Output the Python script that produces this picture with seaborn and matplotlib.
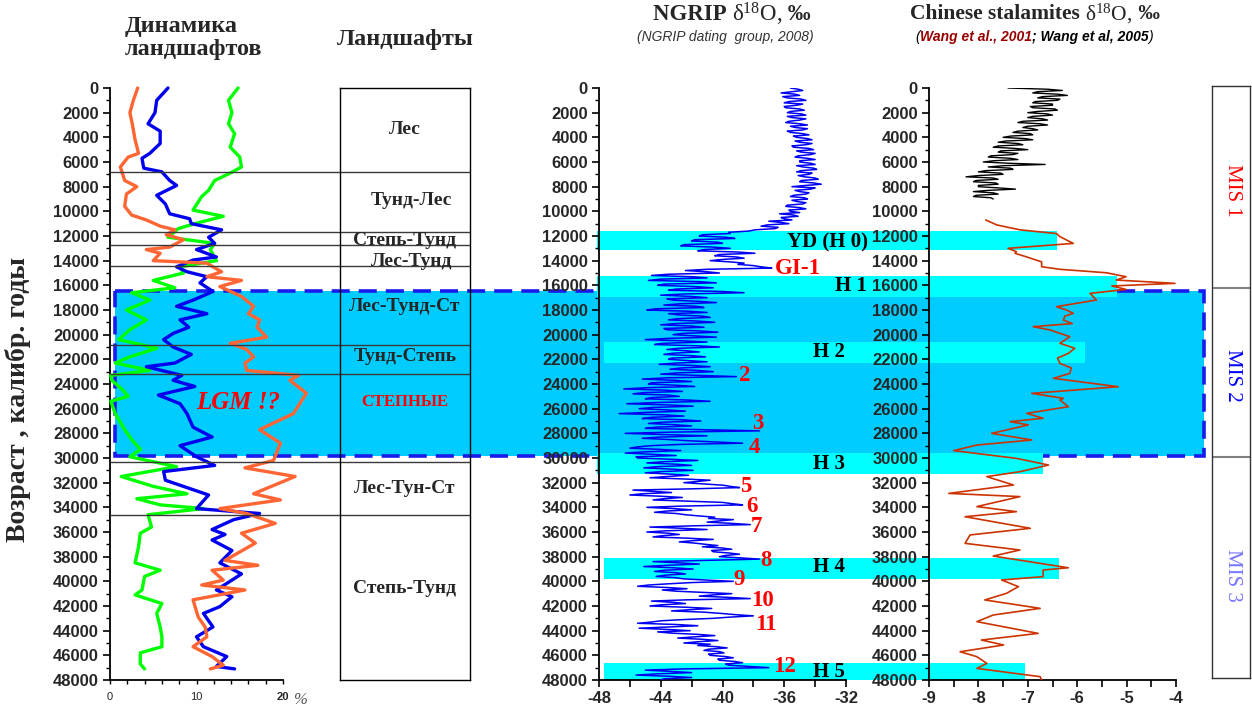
import numpy as np
import pandas as pd
import matplotlib
matplotlib.use("Agg")
import matplotlib.pyplot as plt
import seaborn as sns
from matplotlib.patches import Rectangle
from matplotlib.transforms import blended_transform_factory
from matplotlib.ticker import MultipleLocator

# ---------------- data ----------------
# Left panel: landscape dynamics (%), three curves
orange_age = [0, 1000, 2000, 3000, 4200, 5300, 5600, 6400, 7500, 8000, 8600, 9600, 10300, 10700,
              11200, 11500, 11900, 12300, 12900, 13100, 13400, 14000, 14200, 14500, 14900, 15300,
              15600, 16100, 16900, 17700, 18300, 18800, 19400, 20200, 20700, 21200, 21800, 22300,
              22900, 23300, 23700, 24750, 26400, 27700, 28800, 30200, 30800, 31500, 32900, 33400,
              34100, 34500, 35300, 36100, 36900, 38300, 38700, 39100, 39900, 40300, 40700, 41500,
              42900, 43700, 44500, 45300, 46100, 46800, 47100]
orange_val = [3.2, 2.7, 2.3, 2.6, 2.9, 3.3, 2.1, 1.2, 1.7, 3.1, 1.9, 1.7, 2.5, 4.2,
              5.8, 7.5, 6.5, 8.5, 6.9, 4.2, 5.8, 5.0, 11.2, 11.9, 12.9, 11.2,
              15.2, 12.7, 15.2, 16.6, 16.0, 17.3, 17.0, 18.1, 13.9, 15.8, 16.6, 15.6,
              15.8, 21.8, 20.8, 22.7, 21.2, 17.3, 19.7, 18.9, 15.6, 21.4, 16.6, 19.7,
              12.7, 15.8, 19.1, 15.2, 16.8, 13.3, 17.1, 11.8, 13.1, 10.6, 15.6, 9.6,
              10.2, 11.0, 11.2, 9.6, 11.8, 13.1, 11.6]

blue_age = [0, 1000, 2000, 2900, 3500, 4500, 5300, 5700, 6500, 6800, 7500, 7900, 8700, 9400,
            10200, 10600, 11000, 11500, 12100, 12600, 13100, 13700, 13950, 14500, 14900, 15300,
            15800, 16500, 17200, 17700, 18300, 18800, 19400, 19900, 20400, 21000, 21600, 22300,
            22600, 23300, 23700, 24200, 24900, 25600, 26400, 27500, 28300, 29000, 29900, 30600,
            31100, 31800, 33000, 34100, 34500, 35000, 35800, 36200, 36650, 37500, 38500, 39400,
            39900, 40700, 41250, 42050, 42600, 43700, 44500, 45300, 46100, 46900, 47100]
blue_val = [6.7, 5.4, 5.2, 4.4, 5.8, 5.8, 4.6, 3.7, 3.9, 6.0, 6.9, 7.7, 5.4, 6.4,
            6.9, 9.2, 9.4, 12.9, 11.4, 12.1, 10.0, 12.3, 9.6, 7.7, 8.9, 11.2,
            10.4, 11.9, 9.6, 7.7, 11.2, 8.1, 9.1, 7.3, 6.2, 7.3, 9.4, 7.5,
            4.2, 8.3, 7.3, 9.8, 5.6, 8.1, 8.9, 9.6, 11.8, 8.1, 10.0, 12.1,
            6.2, 6.4, 11.4, 10.0, 17.3, 14.3, 11.8, 13.3, 11.8, 14.1, 12.7, 15.2,
            14.1, 12.3, 14.1, 12.7, 10.8, 11.9, 10.0, 10.8, 13.5, 12.3, 14.4]

green_age = [0, 1000, 2000, 2900, 3700, 4800, 5600, 6400, 6900, 7500, 8300, 8800, 9900, 10400,
             11000, 11400, 12100, 12600, 13100, 14000, 14500, 15000, 15600, 16200, 16600, 17200,
             18000, 18800, 19600, 20400, 21100, 21800, 22300, 22900, 23300, 23700, 24500, 25000,
             25400, 26400, 27700, 28500, 29300, 29900, 30700, 31500, 32300, 32900, 33300, 33800,
             34100, 34600, 35600, 36100, 37200, 38500, 39100, 39600, 40700, 41100, 41800, 42600,
             43700, 44500, 45300, 45800, 46700, 47100]
green_val = [14.8, 13.7, 14.1, 13.7, 14.4, 13.9, 15.0, 15.2, 13.9, 12.1, 11.4, 10.6, 9.6, 13.1,
             9.8, 7.9, 6.7, 12.1, 11.6, 12.3, 8.1, 8.5, 5.0, 7.5, 2.5, 4.6,
             1.9, 4.2, 2.3, 1.0, 5.4, 2.3, 0.6, 4.6, 0.1, 0.2, 1.5, 2.1,
             0.1, 0.6, 1.7, 2.5, 3.5, 2.3, 7.7, 1.3, 5.0, 8.9, 3.1, 5.8,
             10.8, 4.4, 4.8, 3.5, 3.3, 2.9, 5.8, 4.0, 3.7, 2.9, 6.0, 5.4,
             5.8, 6.0, 6.0, 3.5, 3.5, 4.0]

# NGRIP d18O, every 100 years from 0 to 48000 (one row = 2000 years)
ngrip_age = np.arange(0, 48001, 100)
ngrip_val = [
    -35.6, -35.1, -34.8, -35.5, -36.2, -35.3, -35.0, -36.1, -35.8, -34.9, -34.6, -35.7, -36.0, -34.8, -35.2, -36.0, -35.9, -35.0, -34.7, -35.6,
    -35.8, -34.9, -34.6, -35.8, -35.5, -34.6, -35.0, -35.7, -35.9, -35.0, -34.5, -35.6, -35.3, -34.5, -34.8, -35.8, -35.6, -34.8, -34.4, -35.4,
    -35.2, -34.5, -34.2, -35.3, -35.0, -34.2, -34.6, -35.5, -35.4, -34.4, -34.1, -35.2, -34.9, -34.0, -34.3, -35.1, -35.3, -34.5, -34.0, -35.0,
    -35.0, -34.3, -34.0, -35.2, -34.8, -34.1, -33.9, -34.9, -35.2, -34.2, -34.4, -35.1, -34.7, -34.0, -33.8, -34.9, -35.0, -34.1, -33.6, -34.6,
    -35.5, -34.0, -34.3, -35.3, -35.0, -34.4, -34.6, -35.4, -35.6, -34.7, -34.5, -35.5, -35.2, -34.6, -34.8, -35.8, -35.9, -35.0, -34.6, -35.7,
    -35.6, -35.0, -36.3, -35.4, -35.1, -36.2, -36.0, -35.5, -37.0, -36.2, -35.7, -37.1, -37.5, -36.4, -36.6, -37.9, -38.3, -39.6, -39.5, -41.3,
    -41.5, -39.8, -39.2, -41.8, -42.0, -40.3, -40.0, -42.5, -42.7, -40.6, -39.5, -41.2, -41.6, -39.0, -37.9, -40.2, -40.5, -39.1, -38.6, -40.0,
    -40.8, -39.5, -38.6, -39.0, -38.0, -37.5, -36.8, -41.0, -42.4, -41.0, -40.2, -43.5, -44.6, -42.0, -41.0, -44.0, -44.8, -41.5, -40.4, -43.8,
    -44.2, -41.8, -40.6, -43.0, -43.5, -40.0, -38.6, -42.5, -44.0, -42.0, -41.0, -43.6, -43.2, -41.5, -40.4, -42.8, -43.8, -41.7, -41.2, -44.3,
    -44.9, -42.2, -41.0, -43.5, -42.8, -41.3, -40.8, -42.9, -43.5, -41.6, -40.5, -43.0, -44.0, -42.0, -41.2, -43.8, -43.6, -41.5, -40.3, -42.6,
    -43.2, -41.8, -40.4, -43.5, -45.0, -42.6, -41.0, -43.9, -44.4, -41.7, -40.2, -42.8, -43.6, -42.4, -41.5, -43.2, -43.8, -42.0, -41.1, -43.3,
    -43.5, -42.2, -41.0, -43.0, -44.1, -41.9, -40.8, -42.7, -43.4, -41.6, -40.6, -42.9, -44.0, -41.7, -39.1, -43.6, -45.2, -43.1, -42.0, -44.6,
    -44.8, -43.0, -41.8, -44.9, -46.4, -43.7, -42.6, -45.1, -45.8, -43.5, -42.8, -44.6, -45.0, -42.3, -40.8, -44.2, -46.2, -43.4, -41.9, -44.5,
    -45.4, -43.6, -42.4, -44.9, -46.7, -43.8, -42.5, -44.6, -45.2, -42.6, -41.4, -43.9, -44.8, -43.1, -42.0, -44.3, -45.0, -41.5, -37.6, -43.2,
    -46.3, -43.8, -41.0, -44.0, -45.2, -43.5, -42.2, -40.5, -38.7, -42.8, -44.6, -45.5, -46.0, -44.1, -42.7, -45.0, -46.3, -44.5, -43.0, -45.6,
    -45.5, -43.4, -41.6, -43.8, -44.9, -43.0, -42.0, -44.2, -45.1, -43.3, -41.9, -43.9, -45.0, -43.5, -42.2, -43.6, -44.7, -42.5, -40.8, -41.6,
    -42.5, -41.2, -40.0, -39.5, -38.9, -42.0, -45.8, -44.5, -43.3, -45.2, -46.0, -44.0, -42.6, -43.8, -44.5, -42.2, -40.0, -39.4, -38.7, -42.6,
    -44.9, -43.2, -42.0, -43.6, -44.4, -43.0, -42.4, -41.5, -40.5, -40.9, -39.3, -40.2, -41.0, -39.4, -38.2, -41.9, -44.7, -42.6, -41.0, -43.6,
    -44.9, -43.5, -42.8, -43.9, -44.5, -42.3, -40.6, -41.9, -42.8, -41.8, -41.1, -40.3, -41.3, -40.0, -39.4, -40.7, -40.6, -39.6, -38.9, -39.8,
    -40.2, -38.8, -37.6, -41.0, -44.5, -42.8, -41.5, -43.6, -45.1, -43.2, -41.9, -43.8, -44.4, -43.0, -42.4, -43.7, -44.3, -43.1, -42.5, -41.0,
    -39.3, -42.0, -43.5, -44.8, -45.5, -43.6, -42.3, -43.9, -43.0, -41.2, -39.4, -40.6, -41.5, -39.6, -38.2, -42.3, -44.6, -43.2, -42.4, -43.9,
    -44.7, -42.4, -40.7, -42.1, -43.3, -41.2, -40.1, -39.2, -38.0, -39.5, -40.6, -42.5, -44.0, -44.6, -45.5, -43.0, -41.6, -43.5, -45.4, -43.6,
    -42.1, -44.2, -43.3, -41.6, -40.5, -41.8, -42.9, -41.3, -40.3, -41.6, -42.5, -40.8, -41.6, -40.4, -39.7, -40.9, -41.2, -40.2, -39.9, -40.9,
    -40.8, -39.8, -39.3, -40.3, -40.2, -39.2, -38.7, -39.8, -39.6, -38.3, -37.0, -42.5, -45.0, -43.4, -42.0, -44.2, -45.6, -43.4, -42.0, -43.8,
    -44.0]

# Chinese stalagmites: Holocene record (black), every 100 years 0..9000
holo_age = np.arange(0, 9001, 100)
holo_val = [
    -7.4, -6.6, -6.3, -6.8, -6.9, -6.4, -6.2, -6.7, -6.8, -6.35, -6.4, -6.85, -6.9, -6.5, -6.5, -6.95, -6.9, -6.45, -6.4, -6.8,
    -7.0, -6.6, -6.5, -6.9, -7.0, -6.7, -6.6, -7.1, -7.2, -6.75, -6.6, -7.0, -7.1, -6.9, -6.8, -7.2, -7.3, -6.95, -6.9, -7.35,
    -7.5, -7.05, -6.9, -7.45, -7.6, -7.2, -7.1, -7.6, -7.7, -7.25, -7.0, -7.55, -7.6, -7.2, -7.3, -7.75, -7.8, -7.35, -7.2, -7.7,
    -7.9, -7.4, -6.65, -7.5, -7.8, -7.35, -7.3, -7.85, -8.0, -7.55, -7.5, -8.0, -8.25, -7.7, -7.6, -8.05, -8.1, -7.65, -7.6, -8.0,
    -8.0, -7.6, -7.25, -7.8, -8.1, -7.7, -7.6, -8.05, -8.1, -7.75, -7.7]

# Chinese stalagmites: Hulu record (red-orange)
hulu_age = [10700, 11100, 11500, 11800, 12050, 12460, 12600, 12730, 13000, 13270, 13400, 13700,
            14100, 14490, 14700, 14980, 15300, 15570, 15840, 16050, 16330, 16650, 17190, 17730,
            18000, 18270, 18500, 18810, 19100, 19350, 19620, 20160, 20700, 21100, 21520, 21900,
            22330, 22700, 23140, 23540, 24220, 24760, 25160, 25300, 25840, 26380, 26780, 27050,
            27320, 28000, 28540, 28950, 29400, 30030, 30570, 31110, 31510, 32190, 32870, 33130,
            33940, 34350, 34760, 35700, 36240, 36920, 37460, 37950, 38900, 39080, 39620, 39890,
            40430, 40970, 41510, 42190, 42730, 43270, 44220, 44760, 45160, 45710, 46110, 46650,
            47060, 47730, 48000]
hulu_val = [-7.85, -7.63, -7.16, -6.42, -6.35, -6.15, -6.08, -6.51, -7.40, -7.23, -7.26, -7.02,
            -6.72, -6.72, -6.35, -5.41, -5.01, -5.21, -4.02, -5.30, -5.01, -5.74, -5.61, -6.42,
            -6.22, -6.08, -6.25, -6.28, -6.10, -6.89, -6.55, -6.15, -6.35, -6.05, -6.18, -6.40,
            -6.35, -6.12, -6.15, -6.48, -5.17, -6.92, -6.28, -6.35, -6.18, -7.02, -6.69, -7.36,
            -6.99, -7.73, -6.92, -8.03, -8.50, -7.23, -6.58, -7.16, -7.83, -7.29, -8.60, -7.16,
            -8.03, -7.23, -8.27, -6.95, -8.17, -8.27, -7.16, -7.70, -6.18, -6.69, -6.69, -7.53,
            -7.19, -7.43, -7.87, -6.75, -7.70, -8.03, -6.79, -7.94, -7.49, -8.37, -8.03, -7.83,
            -8.03, -6.75, -6.72]

# Landscape zones (boundaries, ages) and labels
zone_bounds = [6800, 11650, 12700, 14440, 20800, 23200, 30360, 34660]
zone_labels = ["Лес", "Тунд-Лес", "Степь-Тунд", "Лес-Тунд", "Лес-Тунд-Ст", "Тунд-Степь",
               "Лес-Тун-Ст", "Степь-Тунд"]
zone_label_age = [3400, 9160, 12400, 14100, 17680, 21810, 32510, 40620]
zone_label_x = [0.5, 0.55, 0.5, 0.55, 0.5, 0.5, 0.5, 0.5]

# LGM block (ages)
lgm_top, lgm_bottom = 16450, 29800

# Heinrich / YD bands: label, top age, bottom age, right end (Chinese d18O), left end (NGRIP d18O)
band_names = ["YD (H 0)", "H 1", "H 2", "H 3", "H 4", "H 5"]
band_top = [11600, 15250, 20620, 29570, 38120, 46630]
band_bottom = [13140, 16920, 22330, 31300, 39790, 48000]
band_right = [-6.41, -5.19, -5.84, -6.69, -6.37, -7.06]
band_left = [-48.1, -48.1, -47.7, -48.1, -47.7, -47.7]
band_label_x = [-33.17, -31.67, -33.1, -33.1, -33.1, -33.1]
band_label_age = [12490, 16050, 21400, 30490, 38840, 47350]

# Interstadial numbers on NGRIP
gi_labels = ["GI-1", "2", "3", "4", "5", "6", "7", "8", "9", "10", "11", "12"]
gi_x = [-35.1, -38.54, -37.7, -37.9, -38.5, -38.1, -37.8, -37.2, -38.9, -37.4, -37.2, -36.0]
gi_age = [14675, 23350, 27240, 29110, 32350, 33970, 35590, 38350, 39890, 41590, 43540, 46940]

# Marine isotope stages
mis_bounds = [16400, 30100]
mis_labels = ["MIS 1", "MIS 2", "MIS 3"]
mis_colors = ["#FF0000", "#0000FF", "#7777FF"]
mis_label_y = [190, 375, 575]

age_ticks = list(range(0, 48001, 2000))
pct_ticks = [0, 10, 20]
ngrip_ticks = [-48, -44, -40, -36, -32]
china_ticks = [-9, -8, -7, -6, -5, -4]

# ---------------- style ----------------
sns.set_theme(style="ticks")
plt.rcParams["font.family"] = ["Liberation Sans", "DejaVu Sans"]
plt.rcParams["mathtext.fontset"] = "custom"
plt.rcParams["mathtext.rm"] = "Liberation Serif"
plt.rcParams["mathtext.it"] = "Liberation Serif:italic"
plt.rcParams["mathtext.bf"] = "Liberation Serif:bold"
SERIF = ["Liberation Serif", "DejaVu Serif"]

W, H = 1252, 717
fig = plt.figure(figsize=(W / 100, H / 100), dpi=100)
fig.patch.set_facecolor("white")


def fx(px):
    return px / W


def fy(py):
    return 1 - py / H


def add_axes_px(x0, y0, x1, y1):
    a = fig.add_axes([fx(x0), fy(y1), (x1 - x0) / W, (y1 - y0) / H])
    a.set_facecolor("none")
    return a


ax1 = add_axes_px(110, 88, 283, 680)
ax_land = add_axes_px(340, 88, 470, 680)
ax_ng = add_axes_px(599, 88, 846, 680)
ax_ch = add_axes_px(929, 88, 1176, 680)
ax_mis = add_axes_px(1212, 86, 1250, 678)

for a in (ax1, ax_land, ax_ng, ax_ch, ax_mis):
    a.set_ylim(48000, 0)


def style_age_axis(a):
    a.set_yticks(age_ticks)
    a.set_yticklabels([str(t) for t in age_ticks], fontweight="bold", fontsize=12)
    a.yaxis.set_minor_locator(MultipleLocator(1000))
    a.tick_params(axis="y", which="major", direction="out", length=5, width=1.2,
                  color="black", pad=3, left=True)
    a.tick_params(axis="y", which="minor", direction="out", length=3, width=1,
                  color="black", left=True)
    for s in ("top", "right"):
        a.spines[s].set_visible(False)
    for s in ("left", "bottom"):
        a.spines[s].set_color("black")
        a.spines[s].set_linewidth(1.3)
    a.set_xlabel("")
    a.set_ylabel("")


# ---- left panel curves ----
sns.lineplot(x=green_val, y=green_age, orient="y", sort=False, estimator=None, ax=ax1,
             color="#00FF00", lw=2.4, zorder=3)
sns.lineplot(x=blue_val, y=blue_age, orient="y", sort=False, estimator=None, ax=ax1,
             color="#0000EE", lw=2.4, zorder=3)
sns.lineplot(x=orange_val, y=orange_age, orient="y", sort=False, estimator=None, ax=ax1,
             color="#FF6633", lw=2.4, zorder=3)
for ln in ax1.get_lines():
    ln.set_clip_on(False)
ax1.set_xlim(0, 20)
ax1.set_ylim(48000, 0)
style_age_axis(ax1)
ax1.set_xticks(pct_ticks)
ax1.set_xticklabels([str(t) for t in pct_ticks], fontsize=8)
ax1.get_xticklabels()[-1].set_fontweight("bold")
ax1.xaxis.set_minor_locator(MultipleLocator(2))
ax1.tick_params(axis="x", which="both", direction="out", length=3, width=1, color="black",
                pad=6, bottom=True)
ax1.text(21.2, -0.034, "%", transform=blended_transform_factory(ax1.transData, ax1.transAxes),
         fontsize=12, fontstyle="italic", family=SERIF, color="#555555", va="center",
         ha="left", clip_on=False)

# zone boundary lines crossing the left panel and landscape column
ax1.hlines(zone_bounds, 0, (470 - 110) / 173, transform=ax1.get_yaxis_transform(),
           colors="#3a3a3a", lw=1.0, clip_on=False, zorder=4)
ax1.text(14.8, 25460, "LGM !?", color="#FF0000", fontsize=18, fontweight="bold",
         fontstyle="italic", family=SERIF, ha="center", va="center", zorder=5)

# ---- landscape column ----
ax_land.set_xlim(0, 1)
ax_land.set_xticks([])
ax_land.set_yticks([])
for s in ax_land.spines.values():
    s.set_color("black")
    s.set_linewidth(1.0)
for lab, ag, xx in zip(zone_labels, zone_label_age, zone_label_x):
    ax_land.text(xx, ag, lab, fontsize=14, fontweight="bold", family=SERIF, ha="center",
                 va="center", transform=ax_land.get_yaxis_transform())
ax_land.text(0.5, 25460, "СТЕПНЫЕ", fontsize=12, fontweight="bold", family=SERIF,
             color="#FF0000", ha="center", va="center", transform=ax_land.get_yaxis_transform())

# ---- NGRIP panel ----
sns.lineplot(x=ngrip_val, y=ngrip_age, orient="y", sort=False, estimator=None, ax=ax_ng,
             color="#0000F0", lw=1.1, zorder=3)
ax_ng.set_xlim(-48, -32)
ax_ng.set_ylim(48000, 0)
style_age_axis(ax_ng)
ax_ng.set_xticks(ngrip_ticks)
ax_ng.set_xticklabels([str(t) for t in ngrip_ticks], fontsize=12, fontweight="bold")
ax_ng.xaxis.set_minor_locator(MultipleLocator(2))
ax_ng.tick_params(axis="x", which="both", direction="out", length=5, width=1.2,
                  color="black", pad=3, bottom=True)
for lab, xx, ag in zip(gi_labels, gi_x, gi_age):
    ax_ng.text(xx, ag, lab, color="#FF0000", fontsize=16.5, fontweight="bold", family=SERIF,
               ha="center", va="center", zorder=6)
for lab, xx, ag in zip(band_names, band_label_x, band_label_age):
    ax_ng.text(xx, ag, lab, color="black", fontsize=15, fontweight="bold", family=SERIF,
               ha="center", va="center", zorder=6, clip_on=False)

# ---- Chinese stalagmites panel ----
sns.lineplot(x=holo_val, y=holo_age, orient="y", sort=False, estimator=None, ax=ax_ch,
             color="black", lw=1.0, zorder=3)
sns.lineplot(x=hulu_val, y=hulu_age, orient="y", sort=False, estimator=None, ax=ax_ch,
             color="#CC3300", lw=1.2, zorder=3)
ax_ch.set_xlim(-9, -4)
ax_ch.set_ylim(48000, 0)
style_age_axis(ax_ch)
ax_ch.set_xticks(china_ticks)
ax_ch.set_xticklabels([str(t) for t in china_ticks], fontsize=12, fontweight="bold")
ax_ch.xaxis.set_minor_locator(MultipleLocator(0.5))
ax_ch.tick_params(axis="x", which="both", direction="out", length=5, width=1.2,
                  color="black", pad=3, bottom=True)

# ---- MIS column ----
ax_mis.set_xlim(0, 1)
ax_mis.set_xticks([])
ax_mis.set_yticks([])
for s in ax_mis.spines.values():
    s.set_color("#333333")
    s.set_linewidth(1.0)
ax_mis.hlines(mis_bounds, 0, 1, colors="#808080", lw=1.5, transform=ax_mis.get_yaxis_transform())
for lab, col, py in zip(mis_labels, mis_colors, mis_label_y):
    fig.text(fx(1232), fy(py), lab, color=col, fontsize=15, family=SERIF, rotation=-90,
             ha="center", va="center")


# ---- background blocks (figure level) ----
def data_to_figx(a, xv):
    p = a.get_position()
    x0, x1 = a.get_xlim()
    return p.x0 + (xv - x0) / (x1 - x0) * p.width


tr_lgm = blended_transform_factory(fig.transFigure, ax1.transData)
fig.add_artist(Rectangle((fx(115), lgm_top), fx(1204) - fx(115), lgm_bottom - lgm_top,
                         transform=tr_lgm, facecolor="#00CCFF", edgecolor="none", zorder=-3))
fig.add_artist(Rectangle((fx(115), lgm_top), fx(1204) - fx(115), lgm_bottom - lgm_top,
                         transform=tr_lgm, facecolor="none", edgecolor="#1a1aee", lw=2.6,
                         linestyle=(0, (5, 2.5)), zorder=-2.5))
for top, bot, xl, xr in zip(band_top, band_bottom, band_left, band_right):
    x0 = data_to_figx(ax_ng, xl)
    x1 = data_to_figx(ax_ch, xr)
    fig.add_artist(Rectangle((x0, top), x1 - x0, bot - top, transform=tr_lgm,
                             facecolor="#00FFFF", edgecolor="none", zorder=-2))

# ---- titles ----
fig.text(fx(125), fy(38), "Динамика\nландшафтов", fontsize=17.5, fontweight="bold",
         family=SERIF, ha="left", va="center", linespacing=1.1)
fig.text(fx(405), fy(40), "Ландшафты", fontsize=17.5, fontweight="bold", family=SERIF,
         ha="center", va="center")
fig.text(fx(18), fy(400), "Возраст , калибр. годы", fontsize=20, fontweight="bold",
         family=SERIF, rotation=90, ha="center", va="center")

renderer = fig.canvas.get_renderer()


def piece_text(x_center, py, pieces, **common):
    texts = []
    widths = []
    for s, kw in pieces:
        t = fig.text(0, fy(py), s, ha="left", va="center", **common, **kw)
        texts.append(t)
        widths.append(t.get_window_extent(renderer=renderer).width)
    total = sum(widths)
    x = x_center - total / 2
    for t, w in zip(texts, widths):
        t.set_x(fx(x))
        x += w


piece_text(732, 14, [("NGRIP ", dict(fontweight="bold")),
                     ("δ$^{18}$O,", dict(fontweight="normal")),
                     (" ‰", dict(fontweight="bold"))], family=SERIF, fontsize=16.5)
piece_text(1035, 14, [("Chinese stalamites ", dict(fontweight="bold")),
                      ("δ$^{18}$O,", dict(fontweight="normal")),
                      (" ‰", dict(fontweight="bold"))], family=SERIF, fontsize=15.5)
piece_text(725, 37, [("(NGRIP dating  group, 2008)", dict(color="#333333"))],
           fontsize=10, fontstyle="italic")
piece_text(1034, 37, [("(", dict(color="black")),
                      ("Wang et al., 2001", dict(color="#990000", fontweight="bold")),
                      ("; Wang et al, 2005", dict(color="black", fontweight="bold")),
                      (")", dict(color="black"))],
           fontsize=10, fontstyle="italic")

fig.savefig("out.png", dpi=100, facecolor="white")
